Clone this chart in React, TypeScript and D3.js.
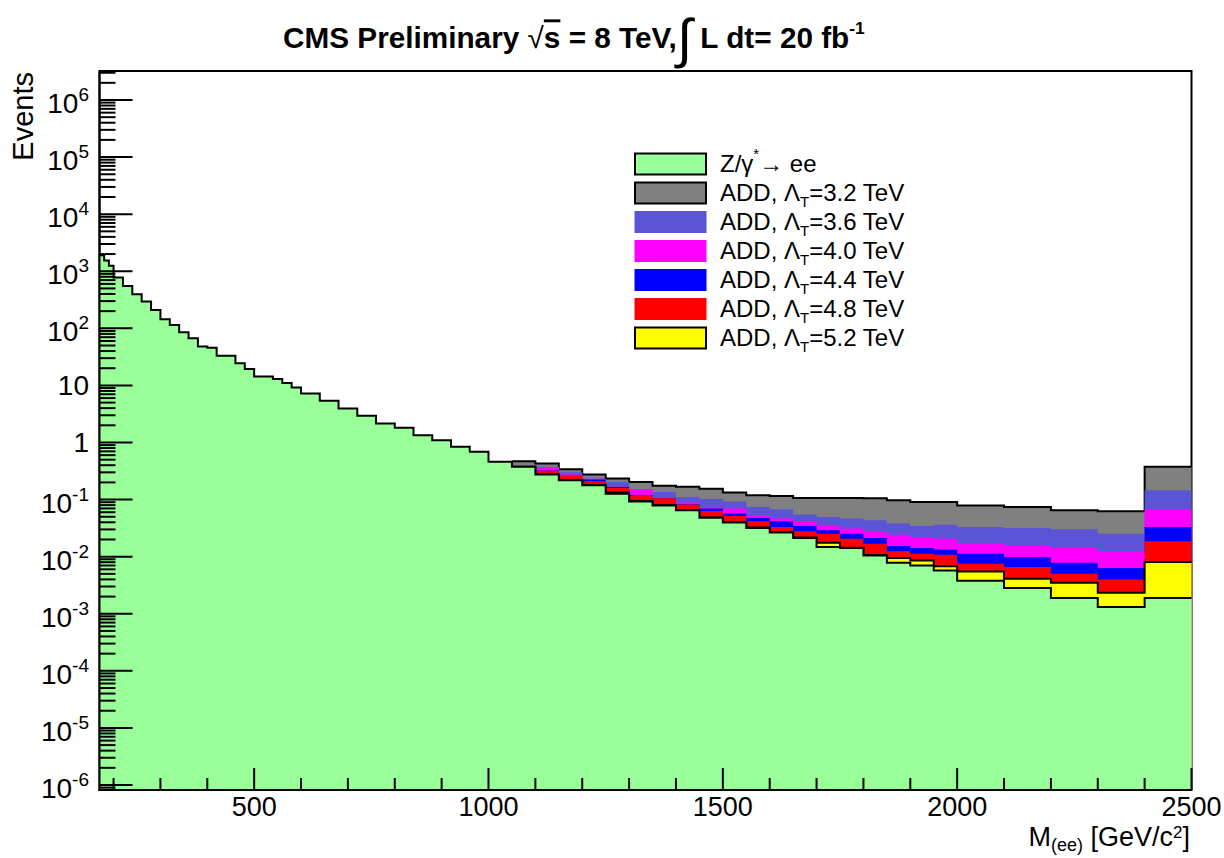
import React, { useLayoutEffect, useRef, useState } from "react";
import * as d3 from "d3";

// ---------------- data ----------------
// Drell-Yan Z/gamma* -> ee, bin edges in GeV and yields per bin
const binEdges = [
  170, 180, 190, 200, 220, 240, 260, 280, 300, 320, 340, 360, 380, 400, 420, 440, 460, 480, 500, 520, 540,
  560, 580, 600, 640, 680, 720, 760, 800, 840, 880, 920, 960, 1000, 1050, 1100, 1150, 1200, 1250, 1300,
  1350, 1400, 1450, 1500, 1550, 1600, 1650, 1700, 1750, 1800, 1850, 1900, 1950, 2000, 2100, 2200, 2300,
  2400, 2500,
];
const dyYields = [
  1900, 1550, 1250, 780, 553, 396, 295, 210, 144, 114, 85, 67, 48, 45.7, 33, 33, 24.5, 19.4, 14.4, 14.4,
  12.9, 11, 9.2, 7.2, 5.4, 3.95, 2.94, 2.15, 1.81, 1.34, 1.1, 0.84, 0.69, 0.46, 0.375, 0.275, 0.218, 0.178,
  0.126, 0.093, 0.079, 0.065, 0.048, 0.0395, 0.0319, 0.0264, 0.0213, 0.0148, 0.0142, 0.0105, 0.00785,
  0.007, 0.0057, 0.0038, 0.00282, 0.00188, 0.00131, 0.00188,
];

// ADD signal + DY totals, high-mass bins
const addEdges = [
  1050, 1100, 1150, 1200, 1250, 1300, 1350, 1400, 1450, 1500, 1550, 1600, 1650, 1700, 1750, 1800, 1850,
  1900, 1950, 2000, 2100, 2200, 2300, 2400, 2500,
];
const add32 = [
  0.47, 0.43, 0.34, 0.275, 0.233, 0.204, 0.174, 0.167, 0.155, 0.133, 0.119, 0.116, 0.107, 0.107, 0.107,
  0.105, 0.097, 0.091, 0.091, 0.079, 0.0745, 0.065, 0.0623, 0.375,
];
const add36 = [
  0.385, 0.375, 0.3, 0.233, 0.204, 0.152, 0.136, 0.111, 0.102, 0.093, 0.0745, 0.0676, 0.0546, 0.0497,
  0.0464, 0.0433, 0.038, 0.0345, 0.0364, 0.0332, 0.0319, 0.0301, 0.0253, 0.146,
];
const add40 = [
  0.38, 0.372, 0.275, 0.232, 0.168, 0.15, 0.107, 0.0886, 0.074, 0.0695, 0.0517, 0.0464, 0.0406, 0.0345,
  0.031, 0.0271, 0.0243, 0.0222, 0.0207, 0.0169, 0.0158, 0.0142, 0.0124, 0.0676,
];
const add44 = [
  0.378, 0.322, 0.262, 0.224, 0.166, 0.12, 0.106, 0.083, 0.0695, 0.0568, 0.0478, 0.0417, 0.0345, 0.029,
  0.0253, 0.0213, 0.0154, 0.0142, 0.0134, 0.0113, 0.0099, 0.00785, 0.00634, 0.0332,
];
const add48 = [
  0.377, 0.32, 0.26, 0.21, 0.16, 0.118, 0.105, 0.082, 0.063, 0.0517, 0.0417, 0.0332, 0.0278, 0.0253,
  0.0207, 0.0169, 0.0124, 0.0113, 0.0108, 0.0075, 0.0066, 0.00503, 0.004, 0.0186,
];
const add52 = [
  0.375, 0.276, 0.219, 0.179, 0.133, 0.094, 0.08, 0.066, 0.0485, 0.04, 0.0323, 0.0268, 0.0216, 0.0176,
  0.0144, 0.0107, 0.0095, 0.0086, 0.0068, 0.0055, 0.0041, 0.0035, 0.00233, 0.0081,
];

const addLambdas = ["3.2", "3.6", "4.0", "4.4", "4.8", "5.2"];
const addSeries = [add32, add36, add40, add44, add48, add52];
const addColors = ["#808080", "#5b55d6", "#ff00ff", "#0000ff", "#ff0000", "#ffff00"];
const addOutlined = [true, false, false, false, false, true];
const dyColor = "#99ff99";

const yMajorExponents = [-6, -5, -4, -3, -2, -1, 0, 1, 2, 3, 4, 5, 6];
const xMajorTicks = [500, 1000, 1500, 2000, 2500];
const xMinorTicks = [
  200, 300, 400, 600, 700, 800, 900, 1100, 1200, 1300, 1400, 1600, 1700, 1800, 1900, 2100, 2200, 2300, 2400,
];

// ---------------- layout ----------------
const W = 1224;
const H = 858;
const L = 99.5;
const R = 1191.5;
const T = 71;
const B = 790;
const FONT = "'Liberation Sans', Arial, Helvetica, sans-serif";

export default function App() {
  const x = d3.scaleLinear().domain([170, 2500]).range([L, R]);
  const y = d3.scaleLog().domain([Math.pow(10, -6.0876), Math.pow(10, 6.508)]).range([B, T]);
  const yc = (v: number) => Math.max(T, Math.min(B, y(v)));

  const pts = (edges: number[], vals: number[]) => {
    const p = vals.map((v, i) => [edges[i], v] as [number, number]);
    p.push([edges[edges.length - 1], vals[vals.length - 1]]);
    return p;
  };
  const area = d3
    .area<[number, number]>()
    .x((d) => x(d[0]))
    .y0(B)
    .y1((d) => yc(d[1]))
    .curve(d3.curveStepAfter);
  const line = d3
    .line<[number, number]>()
    .x((d) => x(d[0]))
    .y((d) => yc(d[1]))
    .curve(d3.curveStepAfter);

  const titleRef = useRef<SVGTextElement>(null);
  const [sx, setSx] = useState(1);
  useLayoutEffect(() => {
    if (titleRef.current) {
      const w = titleRef.current.getBBox().width;
      if (w > 0) setSx(582 / w);
    }
  }, []);

  // minor y ticks
  const yMinor: number[] = [];
  for (let e = -7; e <= 6; e++) {
    for (let k = 2; k <= 9; k++) {
      const v = k * Math.pow(10, e);
      const py = y(v);
      if (py >= T && py <= B) yMinor.push(v);
    }
  }

  const yLabel = (e: number) => {
    if (e === 0) return <tspan>1</tspan>;
    if (e === 1) return <tspan>10</tspan>;
    return (
      <>
        <tspan>10</tspan>
        <tspan fontSize={19} dy={-12}>
          {e < 0 ? "-" + Math.abs(e) : String(e)}
        </tspan>
      </>
    );
  };

  const legendRows = [
    { color: dyColor, outlined: true, kind: "dy", lam: "" },
    ...addLambdas.map((lam, i) => ({ color: addColors[i], outlined: addOutlined[i], kind: "add", lam })),
  ];

  return (
    <svg
      width={W}
      height={H}
      style={{ position: "absolute", left: 0, top: 0, background: "#fff" }}
      fontFamily={FONT}
    >
      <rect x={0} y={0} width={W} height={H} fill="#fff" />
      {/* frame */}
      <rect x={L} y={T} width={R - L} height={B - T} fill="none" stroke="#000" strokeWidth={2} />

      {/* ADD totals, largest first */}
      {addSeries.map((vals, i) => (
        <g key={i}>
          <path d={area(pts(addEdges, vals)) || ""} fill={addColors[i]} stroke="none" />
          {addOutlined[i] && (
            <path d={line(pts(addEdges, vals)) || ""} fill="none" stroke="#000" strokeWidth={2} />
          )}
        </g>
      ))}
      {/* DY */}
      <path d={area(pts(binEdges, dyYields)) || ""} fill={dyColor} stroke="none" />
      <path d={line(pts(binEdges, dyYields)) || ""} fill="none" stroke="#000" strokeWidth={2} />

      {/* axes */}
      <line x1={L} x2={L} y1={T} y2={B + 1} stroke="#000" strokeWidth={2} />
      <line x1={L - 1} x2={R} y1={B} y2={B} stroke="#000" strokeWidth={2} />
      {yMajorExponents.map((e) => (
        <line key={"ym" + e} x1={L} x2={L + 33} y1={y(Math.pow(10, e))} y2={y(Math.pow(10, e))} stroke="#000" strokeWidth={2} />
      ))}
      {yMinor.map((v, i) => (
        <line key={"yn" + i} x1={L} x2={L + 16} y1={y(v)} y2={y(v)} stroke="#000" strokeWidth={2} />
      ))}
      {xMajorTicks.map((v) => (
        <line key={"xm" + v} x1={x(v)} x2={x(v)} y1={B} y2={B - 22} stroke="#000" strokeWidth={2} />
      ))}
      {xMinorTicks.map((v) => (
        <line key={"xn" + v} x1={x(v)} x2={x(v)} y1={B} y2={B - 12} stroke="#000" strokeWidth={2} />
      ))}

      {/* y tick labels */}
      {yMajorExponents.map((e) => (
        <text
          key={"yl" + e}
          x={89}
          y={y(Math.pow(10, e)) + (e === 0 || e === 1 ? 10 : 13)}
          fontSize={28}
          textAnchor="end"
          fill="#000"
        >
          {yLabel(e)}
        </text>
      ))}
      {/* x tick labels */}
      {xMajorTicks.map((v) => (
        <text key={"xl" + v} x={x(v)} y={816} fontSize={27} textAnchor="middle" fill="#000">
          {v}
        </text>
      ))}

      {/* axis titles */}
      <text transform={`translate(33,72) rotate(-90)`} fontSize={29} textAnchor="end" fill="#000">
        Events
      </text>
      <text x={1190} y={846} fontSize={27} textAnchor="end" fill="#000">
        <tspan>M</tspan>
        <tspan fontSize={18} dy={5}>(ee)</tspan>
        <tspan dy={-5}> [GeV/c</tspan>
        <tspan fontSize={17} dy={-8}>2</tspan>
        <tspan dy={8}>]</tspan>
      </text>

      {/* title */}
      <g transform={`translate(283,0) scale(${sx},1)`}>
        <text ref={titleRef} x={0} y={48} fontSize={29} fontWeight="bold" fill="#000">
          <tspan>CMS Preliminary </tspan>
          <tspan fontWeight="normal">√</tspan>
          <tspan style={{ textDecoration: "overline" }}>s</tspan>
          <tspan> = 8 TeV,</tspan>
          <tspan fontSize={54} fontWeight="normal" dy={9}>∫</tspan>
          <tspan dy={-9}> L dt= 20 fb</tspan>
          <tspan fontSize={17} dy={-14}>-1</tspan>
        </text>
      </g>

      {/* legend */}
      {legendRows.map((r, i) => {
        const cy = 164 + i * 29;
        return (
          <g key={"lg" + i}>
            <rect
              x={635}
              y={cy - 10.5}
              width={71}
              height={21}
              fill={r.color}
              stroke={r.outlined ? "#000" : r.color}
              strokeWidth={r.outlined ? 2 : 1}
            />
            {r.kind === "dy" ? (
              <text x={720} y={cy + 8} fontSize={24} fill="#000">
                <tspan>Z/γ</tspan>
                <tspan fontSize={15} dy={-13}>*</tspan>
                <tspan dy={13}>→ ee</tspan>
              </text>
            ) : (
              <text x={720} y={cy + 8} fontSize={24} fill="#000">
                <tspan>ADD, Λ</tspan>
                <tspan fontSize={15} dy={6}>T</tspan>
                <tspan dy={-6}>={r.lam} TeV</tspan>
              </text>
            )}
          </g>
        );
      })}
    </svg>
  );
}
